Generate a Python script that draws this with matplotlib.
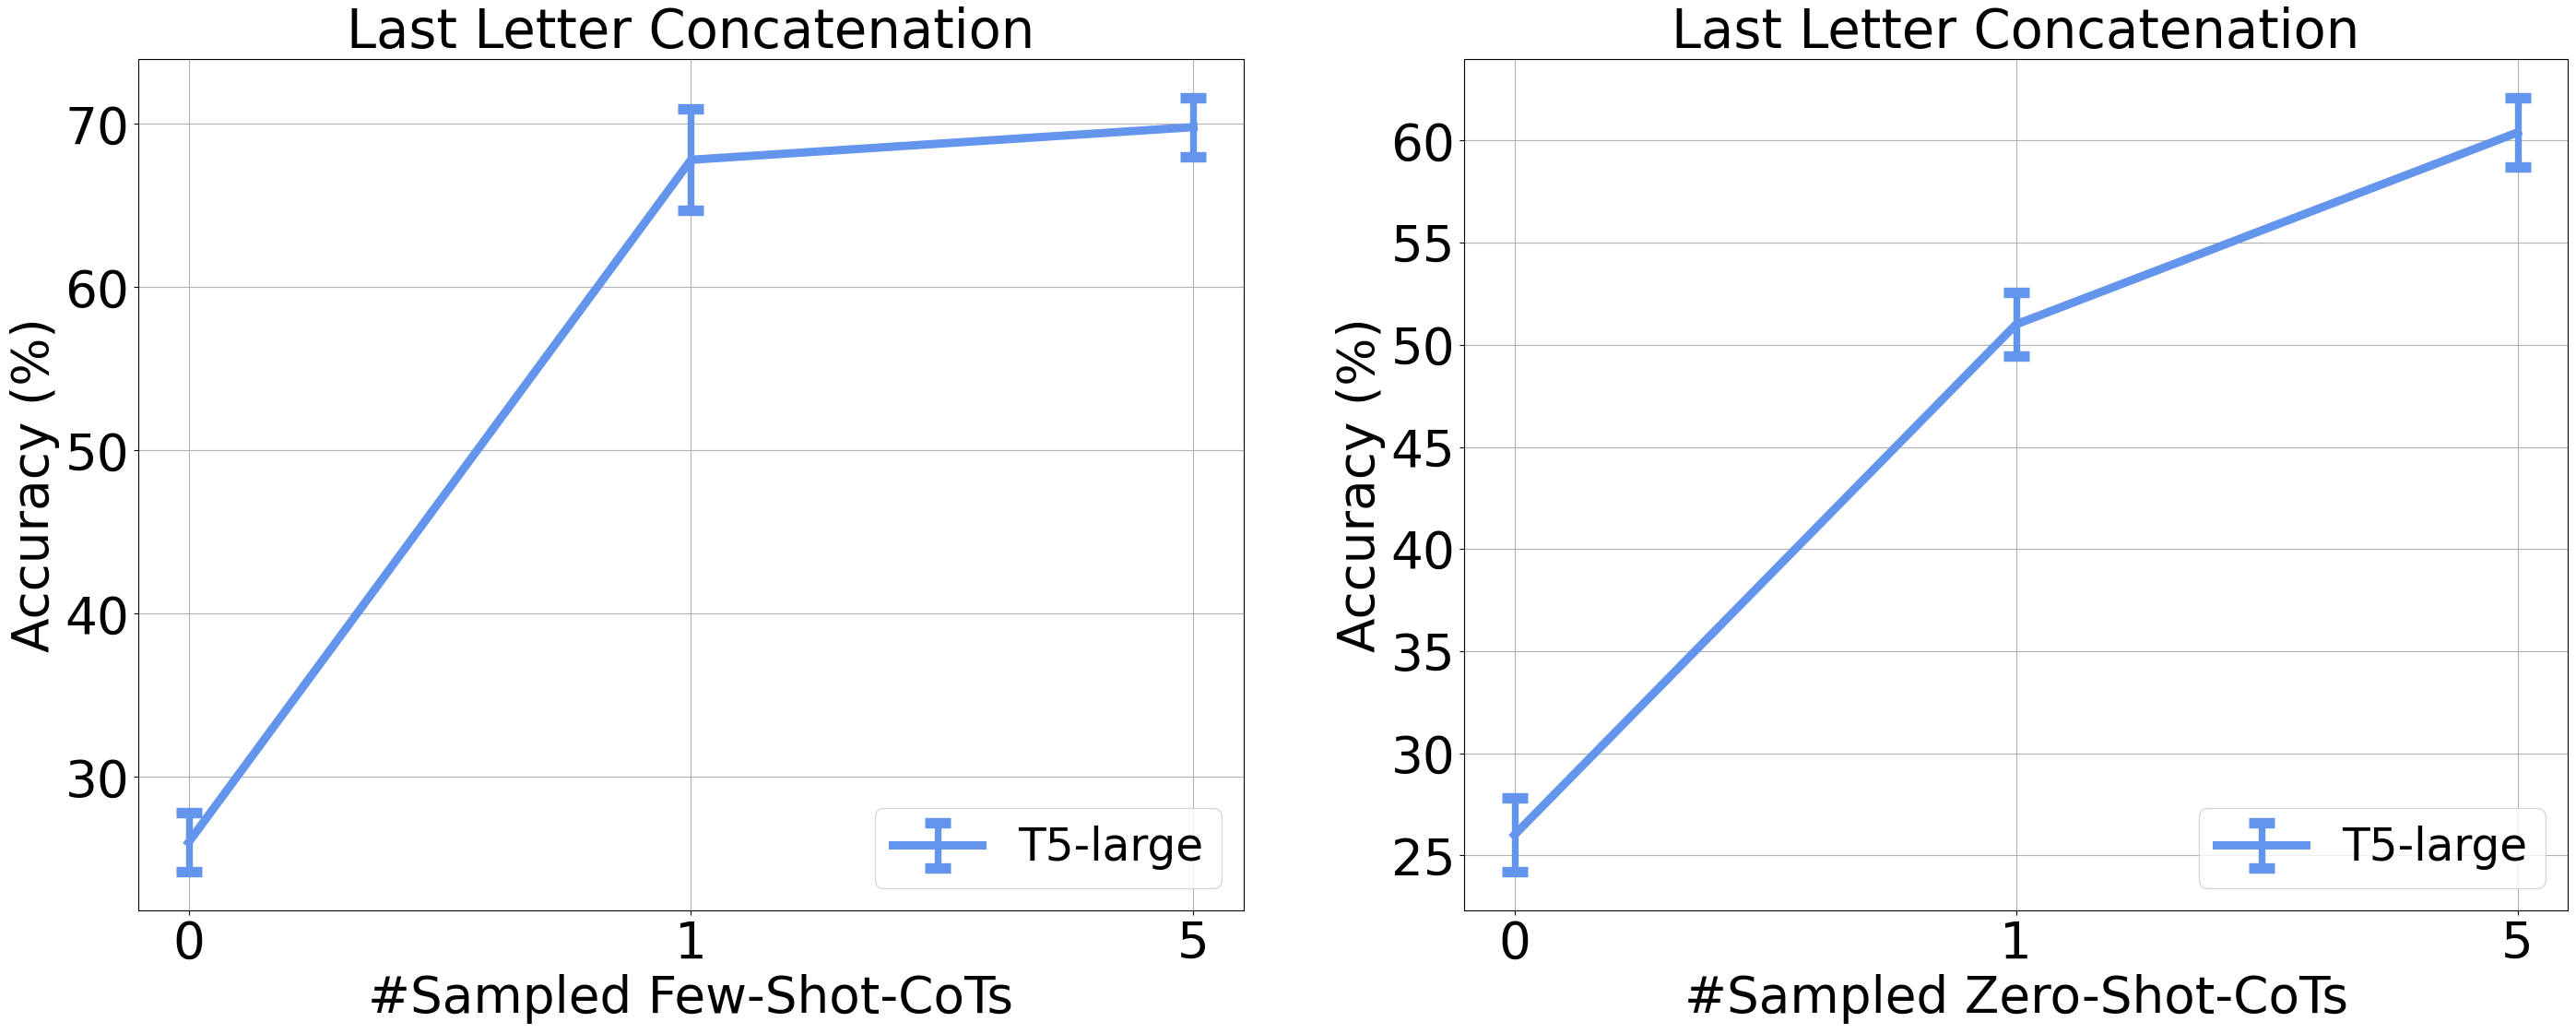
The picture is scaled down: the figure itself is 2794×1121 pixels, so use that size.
import matplotlib
matplotlib.use('Agg')
import matplotlib.pyplot as plt
from matplotlib.ticker import MultipleLocator

# Dados
x_labels = ['0', '1', '5']

few_shot_acc = [26.0, 67.8, 69.8]
few_shot_err = [1.8, 3.1, 1.8]

zero_shot_acc = [26.0, 51.0, 60.4]
zero_shot_err = [1.8, 1.55, 1.7]

model_name = 'T5-large'
cor = 'cornflowerblue'

fig = plt.figure(figsize=(27.94, 11.21), dpi=100)
ax1 = fig.add_axes([0.0537, 0.1195, 0.4291, 0.8234])
ax2 = fig.add_axes([0.5684, 0.1195, 0.4284, 0.8234])

paineis = [
    (ax1, few_shot_acc, few_shot_err, '#Sampled Few-Shot-CoTs', 10),
    (ax2, zero_shot_acc, zero_shot_err, '#Sampled Zero-Shot-CoTs', 5),
]

for ax, acc, err, xlabel, passo in paineis:
    pos = list(range(len(x_labels)))
    ax.errorbar(pos, acc, yerr=err, color=cor, linewidth=6.5,
                elinewidth=5.3, capsize=10, capthick=8.2, label=model_name)
    ax.set_xticks(pos)
    ax.set_xticklabels(x_labels)
    ax.yaxis.set_major_locator(MultipleLocator(passo))
    ax.set_title('Last Letter Concatenation', fontsize=41.5)
    ax.set_xlabel(xlabel, fontsize=39.5)
    ax.set_ylabel('Accuracy (%)', fontsize=39.5)
    ax.tick_params(labelsize=39.5)
    ax.grid(True)
    ax.legend(loc='lower right', fontsize=35)

fig.savefig('out.png', dpi=100)
